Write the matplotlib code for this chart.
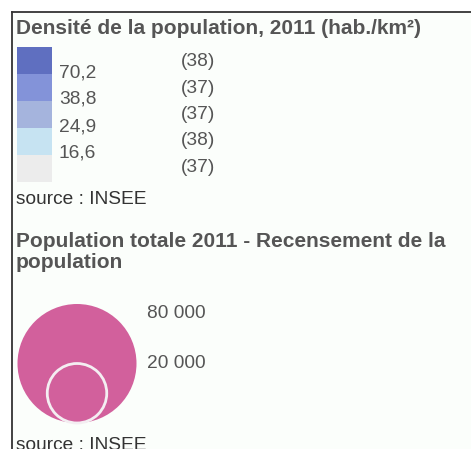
import matplotlib
matplotlib.use("Agg")
import matplotlib.pyplot as plt
import numpy as np
from matplotlib.patches import Rectangle, Circle

# ---- data ----
density_title = "Densité de la population, 2011 (hab./km²)"
density_breaks = ["70,2", "38,8", "24,9", "16,6"]
density_counts = [38, 37, 37, 38, 37]
density_colors = ["#5f6fc0", "#8393d9", "#a5b4dd", "#c6e3f2", "#ececec"]

pop_title = "Population totale 2011 - Recensement de la\npopulation"
pop_values = [80000, 20000]
pop_labels = ["80 000", "20 000"]
pop_color = "#d2609c"
source_text = "source : INSEE"

W, H = 471, 449
FONT = ["Liberation Sans", "DejaVu Sans"]
GREY = "#555555"
TXT = 13.8
TITLE = 15

fig = plt.figure(figsize=(W / 100, H / 100), dpi=100)
ax = fig.add_axes([0, 0, 1, 1])
ax.set_xlim(0, W)
ax.set_ylim(H, 0)
ax.axis("off")

# panel background and border (top + left only)
ax.add_patch(Rectangle((11.5, 11.5), W, H, facecolor="#fbfefb", edgecolor="none"))
ax.plot([11.5, W], [11.5, 11.5], color="#333333", lw=1.3)
ax.plot([11.5, 11.5], [11.5, H], color="#333333", lw=1.3)

# ---- density legend ----
ax.text(16, 29, density_title, fontsize=TITLE, fontweight="bold", color=GREY,
        family=FONT, va="center", ha="left")

sw_top, sw_h, sw_x, sw_w = 47, 27, 17, 35
for i, c in enumerate(density_colors):
    ax.add_patch(Rectangle((sw_x, sw_top + i * sw_h), sw_w, sw_h,
                           facecolor=c, edgecolor="none"))
for i, lab in enumerate(density_breaks):
    ax.text(59, sw_top + (i + 1) * sw_h - 1.5, lab, fontsize=TXT, color=GREY,
            family=FONT, va="center", ha="left")
for i, n in enumerate(density_counts):
    ax.text(181, 62 + i * 26.3, f"({n})", fontsize=TXT, color=GREY,
            family=FONT, va="center", ha="left")

ax.text(16, 200, source_text, fontsize=TXT, color="#333333", family=FONT,
        va="center", ha="left")

# ---- population legend ----
ax.text(16, 252, pop_title, fontsize=TITLE, fontweight="bold", color=GREY,
        family=FONT, va="center", ha="left", linespacing=1.1)

r_max, cx, base = 59.5, 77, 423
for v, lab in zip(pop_values, pop_labels):
    r = r_max * np.sqrt(v / max(pop_values))
    edge = "none" if v == max(pop_values) else "#f4eef2"
    ax.add_patch(Circle((cx, base - r), r, facecolor=pop_color,
                        edgecolor=edge, lw=2))
ax.text(147, 313, pop_labels[0], fontsize=TXT, color=GREY, family=FONT,
        va="center", ha="left")
ax.text(147, 363, pop_labels[1], fontsize=TXT, color=GREY, family=FONT,
        va="center", ha="left")

ax.text(16, 446, source_text, fontsize=TXT, color="#333333", family=FONT,
        va="center", ha="left")

fig.savefig("out.png", dpi=100, facecolor="white")
